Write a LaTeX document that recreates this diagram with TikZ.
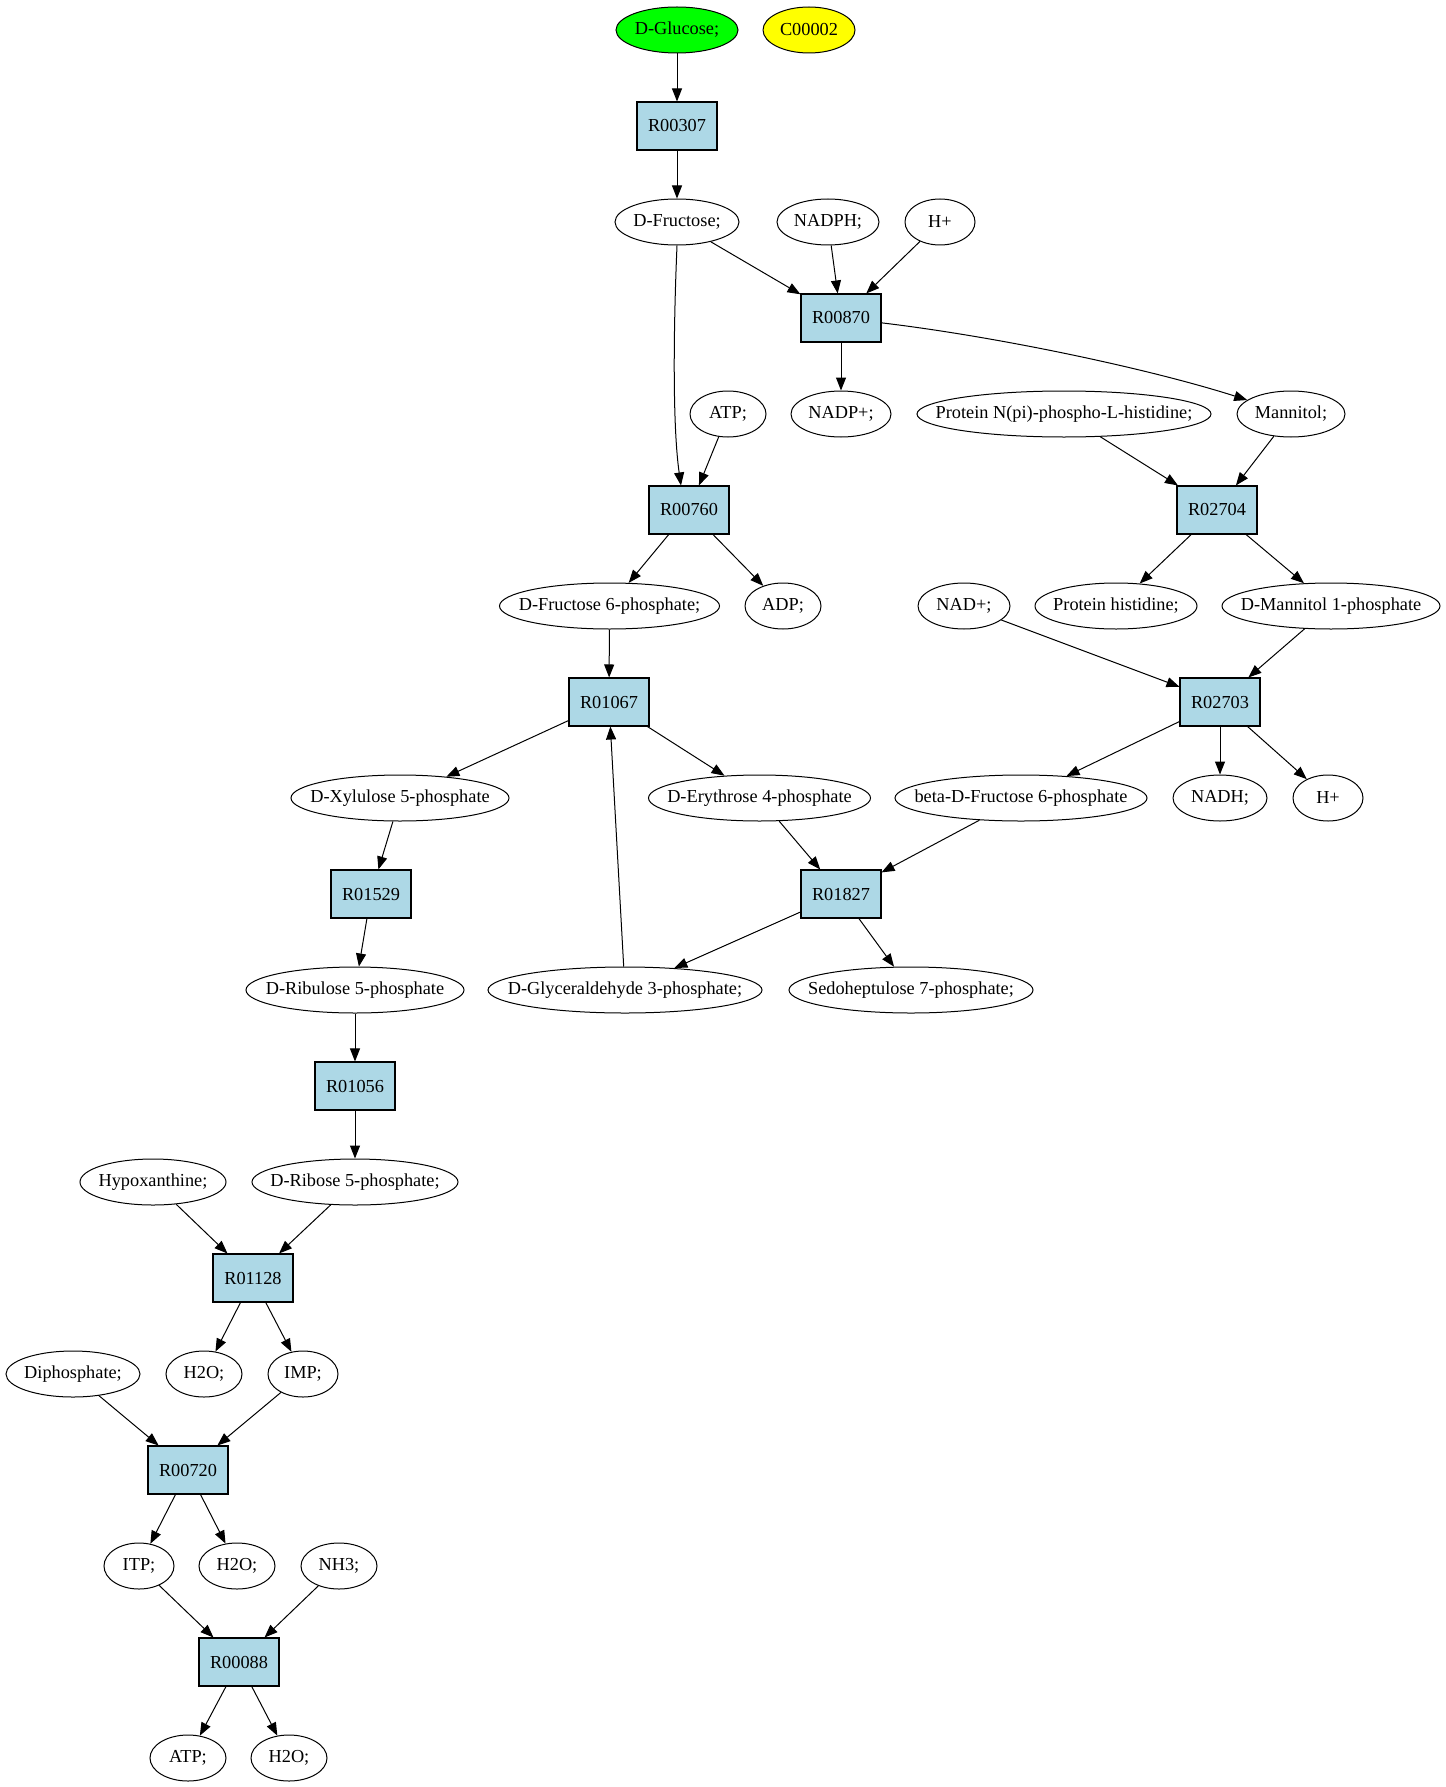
\documentclass[tikz,border=0pt]{standalone}
\usepackage{fontspec}
\setmainfont{Liberation Serif}
\usetikzlibrary{shapes.geometric,arrows.meta}
\definecolor{rxnblue}{HTML}{ADD8E6}
\definecolor{startgreen}{HTML}{00FF00}
\definecolor{cyellow}{HTML}{FFFF00}
\begin{document}
\begin{tikzpicture}[x=1pt,y=-1pt,
  met/.style={ellipse,draw,line width=1pt,inner xsep=-80pt,inner ysep=0pt,minimum height=46pt,font=\fontsize{18.3}{22}\selectfont},
  rxn/.style={rectangle,draw,line width=1.05pt,fill=rxnblue,inner sep=0pt,minimum width=80pt,minimum height=48pt,font=\fontsize{18.3}{22}\selectfont},
  arr/.style={line width=1pt,-{Triangle[length=13pt,width=10pt]}}]
\useasboundingbox (0,0) rectangle (1445,1787);
% level 0
\node[met,fill=startgreen,minimum width=122pt] (glc) at (677,30) {D-Glucose;};
\node[met,fill=cyellow,minimum width=92pt] (c2) at (809,30) {C00002};
% level 1
\node[rxn] (r00307) at (677,126) {R00307};
% level 2
\node[met,minimum width=124pt] (fru) at (677,222) {D-Fructose;};
\node[met,minimum width=102pt] (nadph) at (828,222) {NADPH;};
\node[met,minimum width=70pt] (h1) at (940,222) {H+};
% level 3
\node[rxn] (r00870) at (841,318) {R00870};
% level 4
\node[met,minimum width=76pt] (atp1) at (728,414) {ATP;};
\node[met,minimum width=100pt] (nadp) at (841,414) {NADP+;};
\node[met,minimum width=294pt] (phis) at (1064,414) {Protein N(pi)-phospho-L-histidine;};
\node[met,minimum width=108pt] (mtl) at (1291,414) {Mannitol;};
% level 5
\node[rxn] (r00760) at (689,510) {R00760};
\node[rxn] (r02704) at (1217,510) {R02704};
% level 6
\node[met,minimum width=220pt] (f6p) at (609.5,606) {D-Fructose 6-phosphate;};
\node[met,minimum width=76pt] (adp) at (783,606) {ADP;};
\node[met,minimum width=92pt] (nad) at (964,606) {NAD+;};
\node[met,minimum width=162pt] (his) at (1116,606) {Protein histidine;};
\node[met,minimum width=218pt] (m1p) at (1331,606) {D-Mannitol 1-phosphate};
% level 7
\node[rxn] (r01067) at (609,702) {R01067};
\node[rxn] (r02703) at (1220,702) {R02703};
% level 8
\node[met,minimum width=218pt] (xu5p) at (400,798) {D-Xylulose 5-phosphate};
\node[met,minimum width=222pt] (e4p) at (759.5,798) {D-Erythrose 4-phosphate};
\node[met,minimum width=252pt] (bf6p) at (1021,798) {beta-D-Fructose 6-phosphate};
\node[met,minimum width=94pt] (nadh) at (1220,798) {NADH;};
\node[met,minimum width=70pt] (h2) at (1328,798) {H+};
% level 9
\node[rxn] (r01529) at (371,894) {R01529};
\node[rxn] (r01827) at (841,894) {R01827};
% level 10
\node[met,minimum width=218pt] (ru5p) at (355,990) {D-Ribulose 5-phosphate};
\node[met,minimum width=274pt] (gap) at (625,990) {D-Glyceraldehyde 3-phosphate;};
\node[met,minimum width=244pt] (s7p) at (911,990) {Sedoheptulose 7-phosphate;};
% level 11
\node[rxn] (r01056) at (355,1086) {R01056};
% level 12
\node[met,minimum width=146pt] (hyp) at (153,1182) {Hypoxanthine;};
\node[met,minimum width=206pt] (r5p) at (355,1182) {D-Ribose 5-phosphate;};
% level 13
\node[rxn] (r01128) at (253,1278) {R01128};
% level 14
\node[met,minimum width=134pt] (ppi) at (73,1374) {Diphosphate;};
\node[met,minimum width=76pt] (h2oa) at (204,1374) {H2O;};
\node[met,minimum width=70pt] (imp) at (303,1374) {IMP;};
% level 15
\node[rxn] (r00720) at (188,1470) {R00720};
% level 16
\node[met,minimum width=70pt] (itp) at (139,1566) {ITP;};
\node[met,minimum width=76pt] (h2ob) at (237,1566) {H2O;};
\node[met,minimum width=76pt] (nh3) at (339,1566) {NH3;};
% level 17
\node[rxn] (r00088) at (239,1662) {R00088};
% level 18
\node[met,minimum width=76pt] (atp2) at (188,1758) {ATP;};
\node[met,minimum width=76pt] (h2oc) at (289,1758) {H2O;};

% edges
\draw[arr] (glc) -- (r00307);
\draw[arr] (r00307) -- (fru);
\draw[arr] (fru) -- (r00870);
\draw[arr] (nadph) -- (r00870);
\draw[arr] (h1) -- (r00870);
\draw[arr] (r00870) -- (nadp);
\draw[arr] (r00870) .. controls (1000,337) and (1150,369) .. (mtl);
\draw[arr] (fru.south) .. controls (673,340) and (673,430) .. ([xshift=-8pt]r00760.north);
\draw[arr] (atp1) -- (r00760);
\draw[arr] (r00760) -- (f6p);
\draw[arr] (r00760) -- (adp);
\draw[arr] (phis) -- (r02704);
\draw[arr] (mtl) -- (r02704);
\draw[arr] (r02704) -- (his);
\draw[arr] (r02704) -- (m1p);
\draw[arr] (f6p) -- (r01067);
\draw[arr] (nad) -- (r02703);
\draw[arr] (m1p) -- (r02703);
\draw[arr] (r01067) -- (xu5p);
\draw[arr] (r01067) -- (e4p);
\draw[arr] (r02703) -- (bf6p);
\draw[arr] (r02703) -- (nadh);
\draw[arr] (r02703) -- (h2);
\draw[arr] (xu5p) -- (r01529);
\draw[arr] (e4p) -- (r01827);
\draw[arr] (bf6p) -- (r01827);
\draw[arr] (r01529) -- (ru5p);
\draw[arr] (r01827) -- (gap);
\draw[arr] (r01827) -- (s7p);
\draw[arr] (gap) -- (r01067);
\draw[arr] (ru5p) -- (r01056);
\draw[arr] (r01056) -- (r5p);
\draw[arr] (hyp) -- (r01128);
\draw[arr] (r5p) -- (r01128);
\draw[arr] (r01128) -- (h2oa);
\draw[arr] (r01128) -- (imp);
\draw[arr] (ppi) -- (r00720);
\draw[arr] (imp) -- (r00720);
\draw[arr] (r00720) -- (itp);
\draw[arr] (r00720) -- (h2ob);
\draw[arr] (itp) -- (r00088);
\draw[arr] (nh3) -- (r00088);
\draw[arr] (r00088) -- (atp2);
\draw[arr] (r00088) -- (h2oc);
\end{tikzpicture}
\end{document}
